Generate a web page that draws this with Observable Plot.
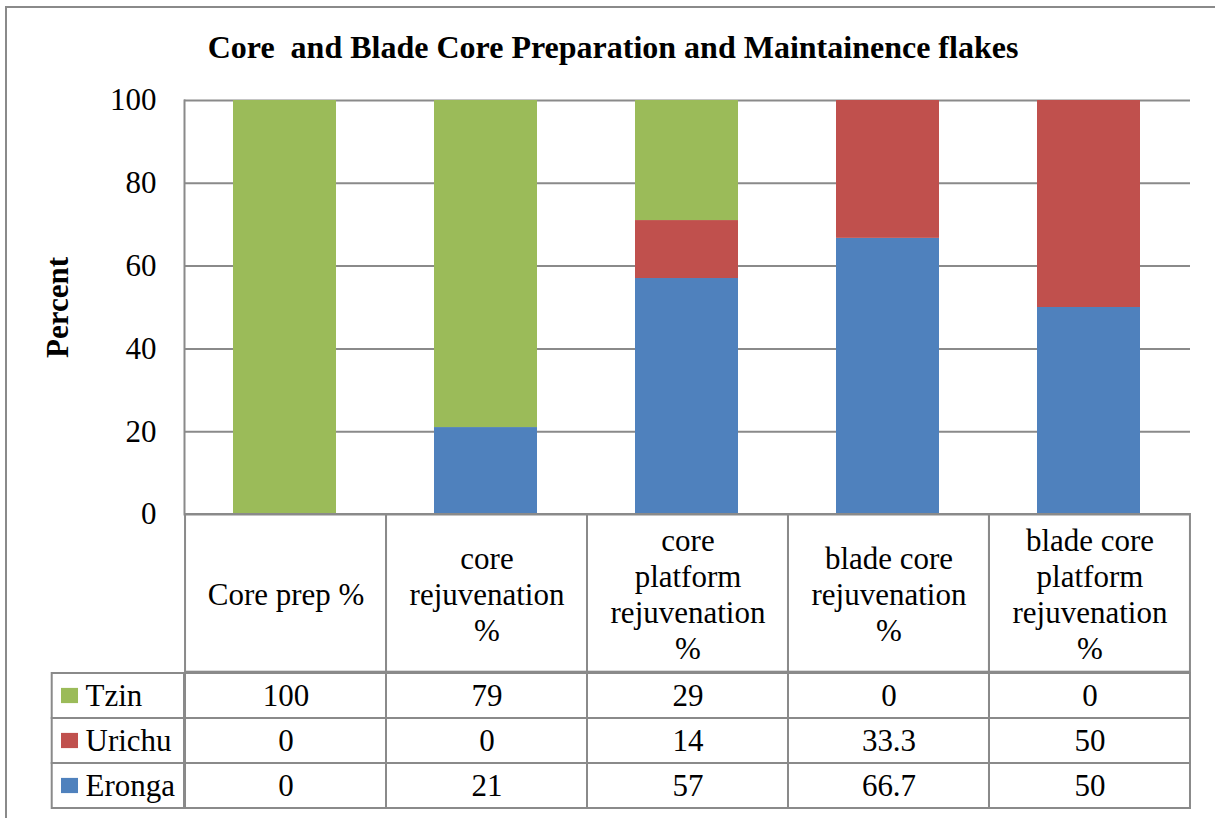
<!DOCTYPE html>
<html>
<head>
<meta charset="utf-8">
<script src="https://cdn.jsdelivr.net/npm/d3@7"></script>
<script src="https://cdn.jsdelivr.net/npm/@observablehq/plot@0.6"></script>
<style>
  html, body { margin: 0; padding: 0; background: #fff; }
  #wrap { position: relative; width: 1215px; height: 818px; overflow: hidden; background: #fff; }
  #frame { position: absolute; left: 5px; top: 6px; width: 1212px; height: 840px; border: 2px solid #8a8a8a; box-sizing: border-box; }
  #wrap svg { position: absolute; left: 0; overflow: visible; }
</style>
</head>
<body>
<div id="wrap">
  <div id="frame"></div>
</div>
<script>
const titleText = "Core  and Blade Core Preparation and Maintainence flakes";
const yLabel = "Percent";
const categories = [
  "Core prep %",
  "core rejuvenation %",
  "core platform rejuvenation %",
  "blade core rejuvenation %",
  "blade core platform rejuvenation %"
];
// header labels as wrapped in the data table
const headerLabels = [
  "Core prep %",
  "core\nrejuvenation\n%",
  "core\nplatform\nrejuvenation\n%",
  "blade core\nrejuvenation\n%",
  "blade core\nplatform\nrejuvenation\n%"
];
const seriesNames = ["Tzin", "Urichu", "Eronga"];
const tzin   = [100, 79, 29, 0, 0];
const urichu = [0, 0, 14, 33.3, 50];
const eronga = [0, 21, 57, 66.7, 50];
const seriesColors = ["#9BBB59", "#C0504D", "#4F81BD"];
const yTicks = [0, 20, 40, 60, 80, 100];

const seriesValues = {Tzin: tzin, Urichu: urichu, Eronga: eronga};
const stackOrder = ["Eronga", "Urichu", "Tzin"]; // bottom-up
const rows = [];
for (const s of stackOrder) {
  categories.forEach((c, i) => rows.push({category: c, series: s, value: seriesValues[s][i]}));
}
const tableRows = [];
for (const s of seriesNames) {
  categories.forEach((c, i) => tableRows.push({category: c, series: s, value: seriesValues[s][i]}));
}

const FONT = "'Liberation Serif', 'Times New Roman', Times, serif";
const gridColor = "#8a8a8a";
const W = 1215, ML = 184, MR = 25;
const style = {fontFamily: FONT, background: "transparent", color: "#000", overflow: "visible"};
const wrap = document.getElementById("wrap");

// ---- main chart ----
const chart = Plot.plot({
  width: W,
  height: 530,
  marginTop: 100,
  marginBottom: 16,
  marginLeft: ML,
  marginRight: MR,
  style,
  x: {domain: categories, paddingInner: 0.4866, paddingOuter: 0.2433, align: 0.5, axis: null},
  y: {domain: [0, 100], axis: null},
  color: {domain: seriesNames, range: seriesColors},
  marks: [
    Plot.gridY(yTicks, {stroke: gridColor, strokeOpacity: 1, strokeWidth: 2}),
    Plot.barY(rows, {x: "category", y: "value", fill: "series", order: stackOrder}),
    Plot.frame({anchor: "left", stroke: gridColor, strokeWidth: 2}),
    Plot.axisY(yTicks, {tickSize: 0, tickPadding: 28, fontSize: 31, label: null, tickFormat: d => String(d)}),
    Plot.text([yLabel], {frameAnchor: "left", dx: -126, rotate: -90, fontSize: 31, fontWeight: "bold", textAnchor: "middle", lineAnchor: "middle"}),
    Plot.text([titleText], {frameAnchor: "top", dx: -74.5, dy: -43, fontSize: 32, fontWeight: "bold", textAnchor: "middle", lineAnchor: "bottom"})
  ]
});
chart.style.top = "0px";
wrap.appendChild(chart);

// ---- data table: header row ----
const headerTop = 514, headerH = 157.7;
const header = Plot.plot({
  width: W,
  height: headerH,
  marginTop: 0, marginBottom: 0, marginLeft: ML, marginRight: MR,
  style,
  x: {domain: categories, padding: 0, axis: null},
  marks: [
    Plot.cell(categories, {x: d => d, fill: "none", stroke: gridColor, strokeWidth: 2}),
    Plot.text(categories, {x: d => d, text: (d, i) => headerLabels[i], fontSize: 31, lineHeight: 36 / 31, lineAnchor: "middle", fill: "#000"})
  ]
});
header.style.top = headerTop + "px";
wrap.appendChild(header);

// ---- data table: value rows with legend keys ----
const rowsTop = headerTop + headerH, rowsH = 137.3;
const frameW = W - ML - MR;
const legLeft = 51.7;
const rowsPlot = Plot.plot({
  width: W,
  height: rowsH,
  marginTop: 0, marginBottom: 0, marginLeft: ML, marginRight: MR,
  style,
  x: {domain: categories, padding: 0, axis: null},
  y: {domain: seriesNames, padding: 0, axis: null},
  marks: [
    Plot.cell(tableRows, {x: "category", y: "series", fill: "none", stroke: gridColor, strokeWidth: 2}),
    // legend column cells (to the left of the frame)
    Plot.cell(seriesNames, {y: d => d, fill: "none", stroke: gridColor, strokeWidth: 2, insetLeft: -(ML - legLeft), insetRight: frameW}),
    // legend swatches
    Plot.cell(seriesNames, {y: d => d, fill: (d, i) => seriesColors[i], insetLeft: -(ML - 61), insetRight: frameW + (ML - 78), insetTop: 14.9, insetBottom: 14.9}),
    Plot.text(seriesNames, {y: d => d, text: d => d, frameAnchor: "left", dx: -(ML - 85), textAnchor: "start", fontSize: 31, lineAnchor: "middle", fill: "#000"}),
    Plot.text(tableRows, {x: "category", y: "series", text: d => String(d.value), fontSize: 31, lineAnchor: "middle", fill: "#000"})
  ]
});
rowsPlot.style.top = rowsTop + "px";
wrap.appendChild(rowsPlot);
</script>
</body>
</html>
